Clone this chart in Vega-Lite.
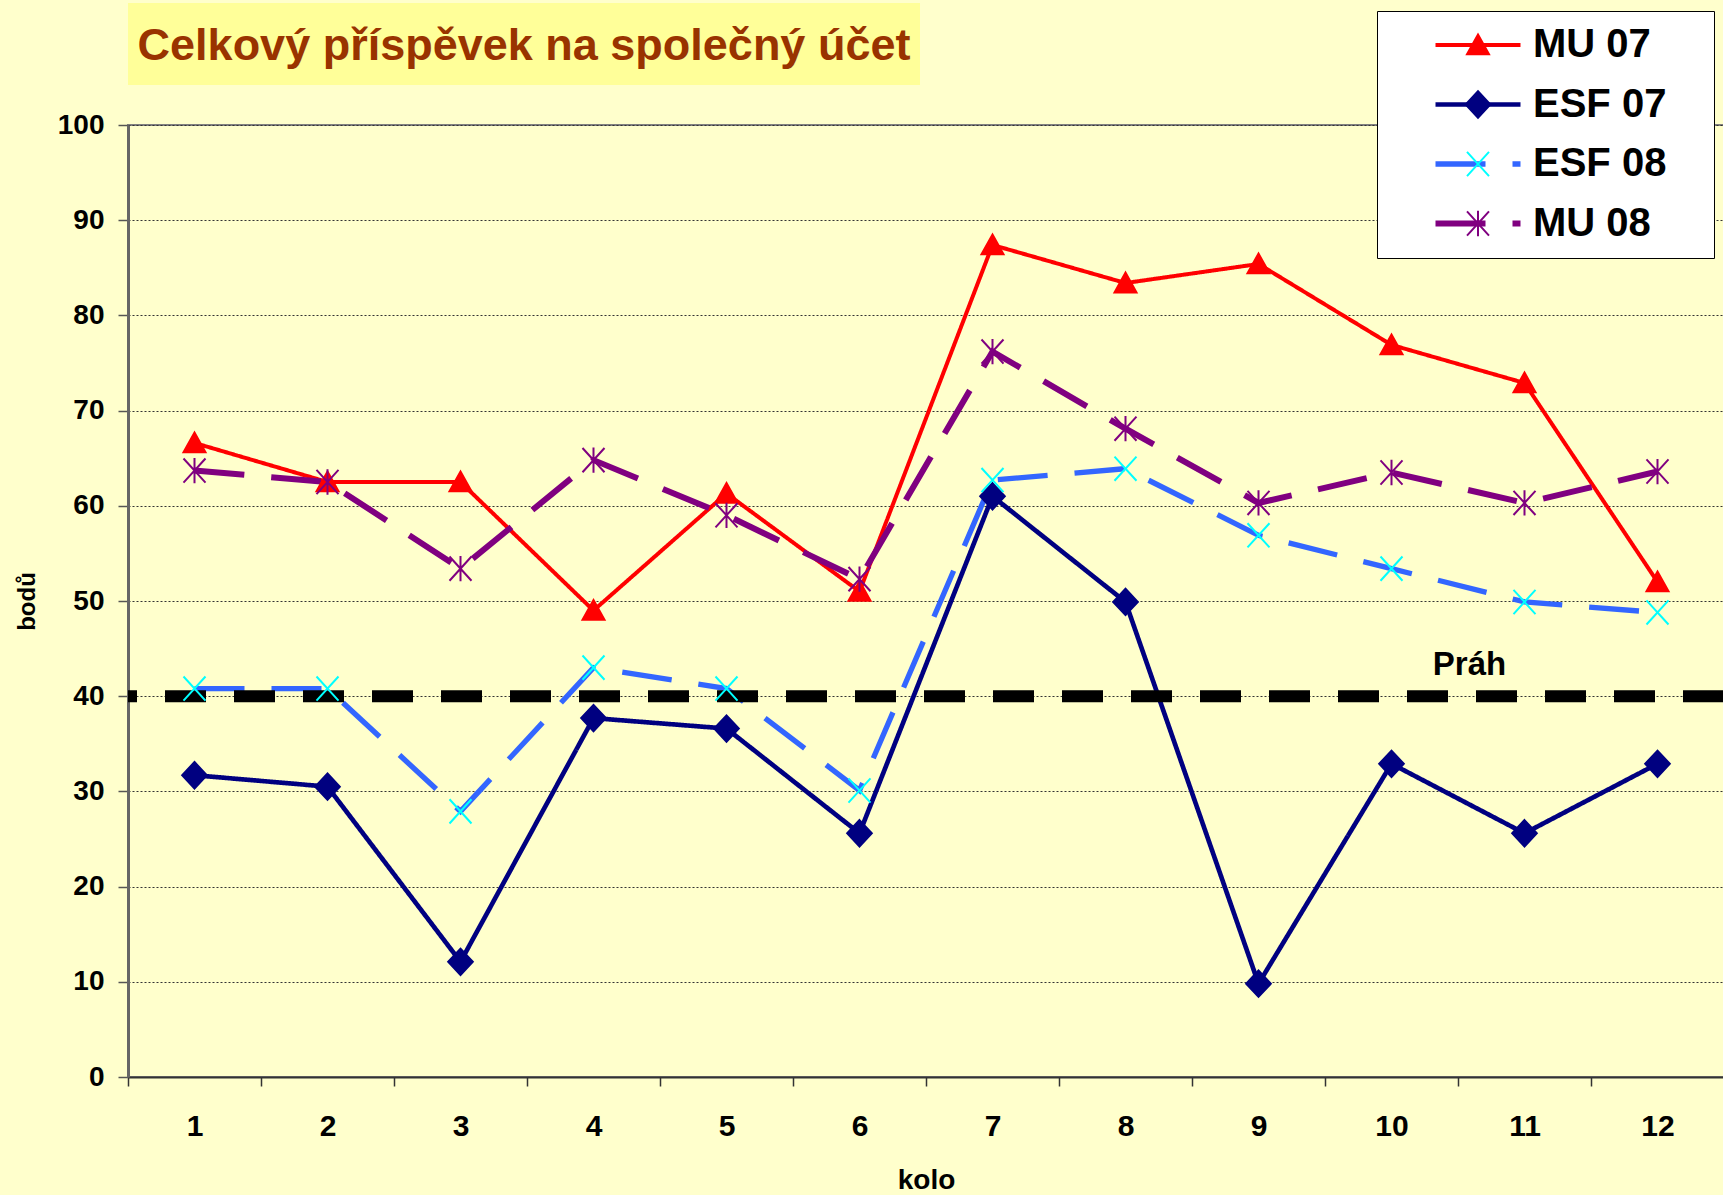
{
  "$schema": "https://vega.github.io/schema/vega-lite/v6.json",
  "background": "#FFFFCC",
  "padding": {"left": 14, "top": 3, "right": 0, "bottom": 0},
  "spacing": 40,
  "bounds": "flush",
  "config": {"font": "Liberation Sans"},
  "vconcat": [
    {
      "width": 792,
      "height": 82,
      "view": {"fill": "#FFFF99", "stroke": null},
      "data": {"values": [{"titulek": "Celkový příspěvek na společný účet"}]},
      "mark": {"type": "text", "font": "Liberation Sans", "fontSize": 45, "fontWeight": "bold", "color": "#993300", "baseline": "alphabetic", "align": "center", "dy": 16},
      "encoding": {"text": {"field": "titulek"}}
    },
    {
      "width": 1596,
      "height": 952,
      "view": {"stroke": "#808080", "strokeWidth": 2},
      "data": {"values": [
        {"kolo": 1, "serie": "MU 07", "body": 66.6},
        {"kolo": 2, "serie": "MU 07", "body": 62.5},
        {"kolo": 3, "serie": "MU 07", "body": 62.5},
        {"kolo": 4, "serie": "MU 07", "body": 49.0},
        {"kolo": 5, "serie": "MU 07", "body": 61.3},
        {"kolo": 6, "serie": "MU 07", "body": 51.0},
        {"kolo": 7, "serie": "MU 07", "body": 87.4},
        {"kolo": 8, "serie": "MU 07", "body": 83.4},
        {"kolo": 9, "serie": "MU 07", "body": 85.4},
        {"kolo": 10, "serie": "MU 07", "body": 76.9},
        {"kolo": 11, "serie": "MU 07", "body": 72.9},
        {"kolo": 12, "serie": "MU 07", "body": 52.0},
        {"kolo": 1, "serie": "ESF 07", "body": 31.7},
        {"kolo": 2, "serie": "ESF 07", "body": 30.5},
        {"kolo": 3, "serie": "ESF 07", "body": 12.1},
        {"kolo": 4, "serie": "ESF 07", "body": 37.7},
        {"kolo": 5, "serie": "ESF 07", "body": 36.6},
        {"kolo": 6, "serie": "ESF 07", "body": 25.6},
        {"kolo": 7, "serie": "ESF 07", "body": 61.0},
        {"kolo": 8, "serie": "ESF 07", "body": 49.9},
        {"kolo": 9, "serie": "ESF 07", "body": 9.8},
        {"kolo": 10, "serie": "ESF 07", "body": 32.9},
        {"kolo": 11, "serie": "ESF 07", "body": 25.6},
        {"kolo": 12, "serie": "ESF 07", "body": 32.9},
        {"kolo": 1, "serie": "ESF 08", "body": 40.8},
        {"kolo": 2, "serie": "ESF 08", "body": 40.8},
        {"kolo": 3, "serie": "ESF 08", "body": 27.9},
        {"kolo": 4, "serie": "ESF 08", "body": 43.0},
        {"kolo": 5, "serie": "ESF 08", "body": 40.8},
        {"kolo": 6, "serie": "ESF 08", "body": 30.1},
        {"kolo": 7, "serie": "ESF 08", "body": 62.7},
        {"kolo": 8, "serie": "ESF 08", "body": 63.9},
        {"kolo": 9, "serie": "ESF 08", "body": 56.9},
        {"kolo": 10, "serie": "ESF 08", "body": 53.4},
        {"kolo": 11, "serie": "ESF 08", "body": 49.9},
        {"kolo": 12, "serie": "ESF 08", "body": 48.8},
        {"kolo": 1, "serie": "MU 08", "body": 63.7},
        {"kolo": 2, "serie": "MU 08", "body": 62.5},
        {"kolo": 3, "serie": "MU 08", "body": 53.4},
        {"kolo": 4, "serie": "MU 08", "body": 64.8},
        {"kolo": 5, "serie": "MU 08", "body": 59.0},
        {"kolo": 6, "serie": "MU 08", "body": 52.3},
        {"kolo": 7, "serie": "MU 08", "body": 76.2},
        {"kolo": 8, "serie": "MU 08", "body": 68.1},
        {"kolo": 9, "serie": "MU 08", "body": 60.3},
        {"kolo": 10, "serie": "MU 08", "body": 63.5},
        {"kolo": 11, "serie": "MU 08", "body": 60.3},
        {"kolo": 12, "serie": "MU 08", "body": 63.6}
      ]},
      "layer": [
        {
          "mark": {"type": "line", "strokeCap": "butt", "strokeJoin": "miter"},
          "encoding": {
            "x": {
              "field": "kolo", "type": "ordinal", "bandPosition": 0.5, "title": "kolo",
              "scale": {"type": "band", "domain": [1,2,3,4,5,6,7,8,9,10,11,12], "paddingInner": 0, "paddingOuter": 0},
              "axis": {
                "labelAngle": 0, "labelFontSize": 30, "labelFontWeight": "bold", "labelColor": "#000000", "labelPadding": 25,
                "tickBand": "extent", "tickSize": 9, "tickColor": "#333333", "tickWidth": 1.5,
                "domainColor": "#333333", "domainWidth": 2, "grid": false,
                "titleFontSize": 28, "titleFontWeight": "bold", "titleColor": "#000000", "titlePadding": 25
              }
            },
            "y": {
              "field": "body", "type": "quantitative", "title": "bodů",
              "scale": {"domain": [0, 100], "nice": false},
              "axis": {
                "values": [0,10,20,30,40,50,60,70,80,90,100],
                "labelFontSize": 28, "labelFontWeight": "bold", "labelColor": "#000000", "labelPadding": 14,
                "tickSize": 10, "tickColor": "#555555", "tickWidth": 1.5,
                "domainColor": "#666666", "domainWidth": 3,
                "grid": true, "gridColor": "#333333", "gridDash": [2, 2], "gridWidth": 1,
                "titleFontSize": 24, "titleFontWeight": "bold", "titleColor": "#000000", "titlePadding": 18
              }
            },
            "color": {
              "field": "serie", "type": "nominal",
              "scale": {"domain": ["MU 07", "ESF 07", "ESF 08", "MU 08"], "range": ["#FF0000", "#000080", "#3366FF", "#800080"]},
              "legend": {
                "orient": "none", "legendX": 1249, "legendY": -114, "title": null,
                "padding": 14, "fillColor": "#FFFFFF", "strokeColor": "#000000",
                "symbolType": "M-3.4,0H3.4", "symbolSize": 625, "symbolOffset": 67,
                "labelOffset": 35, "labelFontSize": 40, "labelFontWeight": "bold", "labelColor": "#000000",
                "labelLimit": 500, "labelExpr": "datum.label + '\u00a0\u00a0\u00a0\u200b'", "rowPadding": 19.5, "zindex": 1
              }
            },
            "strokeDash": {
              "field": "serie", "type": "nominal",
              "scale": {"domain": ["MU 07", "ESF 07", "ESF 08", "MU 08"], "range": [[1, 0], [1, 0], [50, 27], [50, 27]]}
            },
            "strokeWidth": {
              "field": "serie", "type": "ordinal",
              "scale": {"domain": ["MU 07", "ESF 07", "ESF 08", "MU 08"], "range": [4, 6, 7, 7]}
            }
          }
        },
        {
          "data": {"values": [{"prah": 40}]},
          "mark": {"type": "rule", "color": "#000000", "strokeWidth": 12, "strokeDash": [41, 28], "strokeCap": "butt"},
          "encoding": {"y": {"field": "prah", "type": "quantitative", "title": "bodů"}}
        },
        {
          "mark": {"type": "point", "filled": true, "opacity": 1, "size": 484, "strokeWidth": 2},
          "encoding": {
            "x": {"field": "kolo", "type": "ordinal", "bandPosition": 0.5, "title": "kolo"},
            "y": {"field": "body", "type": "quantitative", "title": "bodů"},
            "shape": {
              "field": "serie", "type": "nominal",
              "scale": {"domain": ["MU 07", "ESF 07", "ESF 08", "MU 08"], "range": [
                "M0,-0.95L1,0.85L-1,0.85Z",
                "M0,-1.2L1.12,0L0,1.2L-1.12,0Z",
                "M-1,-1.1L1,1.1M-1,1.1L1,-1.1",
                "M-1,-1.1L1,1.1M-1,1.1L1,-1.1M0,-1.15L0,1.15"
              ]},
              "legend": {
                "orient": "none", "legendX": 1249, "legendY": -114, "title": null,
                "padding": 14, "symbolSize": 484, "symbolOffset": 67, "symbolStrokeWidth": 2,
                "labelOffset": 35, "labelFontSize": 40, "labelFontWeight": "bold", "labelOpacity": 0,
                "labelLimit": 500, "labelExpr": "''", "rowPadding": 19.5, "zindex": 2
              }
            },
            "fill": {
              "field": "serie", "type": "nominal",
              "scale": {"domain": ["MU 07", "ESF 07", "ESF 08", "MU 08"], "range": ["#FF0000", "#000080", "#00FFFF", "#800080"]}
            },
            "stroke": {
              "field": "serie", "type": "nominal",
              "scale": {"domain": ["MU 07", "ESF 07", "ESF 08", "MU 08"], "range": ["#FF0000", "#000080", "#00FFFF", "#800080"]}
            }
          }
        },
        {
          "data": {"values": [{"kolo": 11, "prah": 40, "popisek": "Práh"}]},
          "mark": {"type": "text", "fontSize": 33, "fontWeight": "bold", "color": "#000000", "align": "center", "baseline": "alphabetic", "dx": -55, "dy": -21},
          "encoding": {
            "x": {"field": "kolo", "type": "ordinal", "bandPosition": 0.5, "title": "kolo"},
            "y": {"field": "prah", "type": "quantitative", "title": "bodů"},
            "text": {"field": "popisek"}
          }
        }
      ],
      "resolve": {"legend": {"color": "independent", "strokeDash": "independent", "strokeWidth": "independent", "shape": "independent", "fill": "independent", "stroke": "independent"}}
    }
  ]
}
